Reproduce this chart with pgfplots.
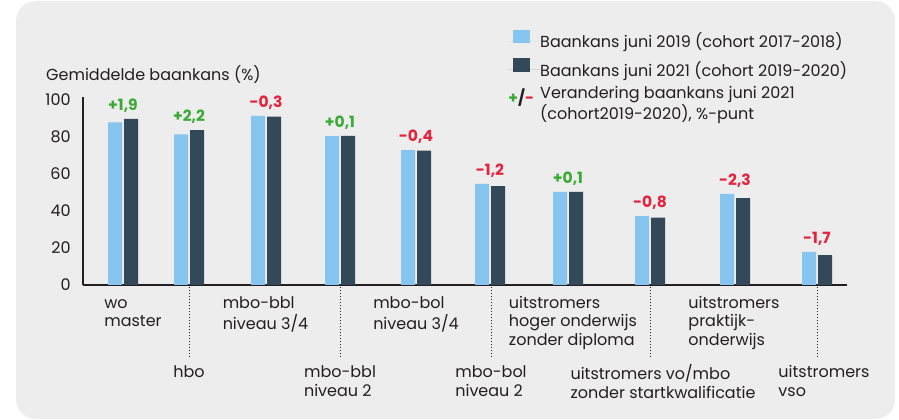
\documentclass[border=0pt]{standalone}
\usepackage{pgfplots}
\pgfplotsset{compat=1.18}
\usepackage{fontspec}
\setmainfont{Poppins}
\definecolor{lightb}{HTML}{85C5EF}
\definecolor{darkb}{HTML}{33495A}
\definecolor{pos}{HTML}{3AAA35}
\definecolor{neg}{HTML}{E6233F}
\definecolor{bg}{HTML}{EDEDED}
\definecolor{txt}{HTML}{231F20}
\newcommand{\f}{\fontsize{16}{18.7}\selectfont}
\newcommand{\fl}{\fontsize{16}{17}\selectfont}
\newcommand{\fb}{\fontsize{15.5}{18}\selectfont\bfseries}
\begin{document}
\begin{tikzpicture}[x=1pt,y=1pt]
\useasboundingbox (0,0) rectangle (899,420);
\fill[bg, rounded corners=20pt] (16,1) rectangle (895,419);
\begin{axis}[
  at={(83pt,135pt)}, anchor=south west,
  scale only axis, width=764pt, height=187.7pt,
  xmin=83, xmax=847, ymin=0, ymax=101.5,
  axis x line=bottom, axis y line=left,
  axis line style={-, line width=1.7pt, txt},
  clip=false,
  ytick={0,20,40,60,80,100},
  ytick style={draw=none},
  yticklabel style={font=\f, text=txt, inner sep=0pt, xshift=-10pt},
  /pgf/number format/assume math mode=true,
  xtick={133,265.5,416,573,734},
  xticklabels={{\strut wo\\master},{\strut mbo-bbl\\niveau 3/4},{\strut mbo-bol\\niveau 3/4},{\strut uitstromers\\hoger onderwijs\\zonder diploma},{\strut uitstromers\\praktijk-\\onderwijs}},
  xtick style={draw=none},
  xticklabel style={font=\f, text=txt, align=left, anchor=north, inner sep=0pt, yshift=-7.6pt},
  extra x ticks={189,340,491,650,817},
  extra x tick labels={{\strut hbo},{\strut mbo-bbl\\niveau 2},{\strut mbo-bol\\niveau 2},{\hspace*{26pt}\strut uitstromers vo/mbo\\\hspace*{26pt}zonder startkwalificatie},{\hspace*{14pt}\strut uitstromers\\\hspace*{14pt}vso}},
  extra x tick style={major tick length=72pt, tick align=outside,
     xtick style={draw=txt, line width=1pt, dash pattern=on 1.2pt off 1.8pt}},
  legend style={at={(0.5563,1.3586)}, anchor=north west, draw=none, fill=none,
     font=\fl, text=txt, inner sep=0pt, row sep=9pt, column sep=0pt,
     cells={anchor=base west, align=left}, nodes={inner sep=0pt}},
  legend cell align=left,
]
\addplot[ybar, bar width=14pt, bar shift=-8pt, fill=lightb, draw=none,
  legend image code/.code={\path[draw=none] (0pt,0pt) -- (32pt,0pt); \fill[lightb] (4.3pt,-2.3pt) rectangle (22pt,11pt);}]
  coordinates {(123,87.9) (189,81.5) (266,91.4) (340,80.5) (416,73.0) (490,54.7) (568,50.3) (650,37.3) (735,49.3) (817,17.9)};
\addlegendentry{Baankans juni 2019 (cohort 2017-2018)}
\addplot[ybar, bar width=14pt, bar shift=8pt, fill=darkb, draw=none,
  legend image code/.code={\path[draw=none] (0pt,0pt) -- (32pt,0pt); \fill[darkb] (4.3pt,-2.3pt) rectangle (22pt,11pt);}]
  coordinates {(123,89.8) (189,83.7) (266,91.1) (340,80.6) (416,72.6) (490,53.5) (568,50.4) (650,36.5) (735,47.0) (817,16.2)};
\addlegendentry{Baankans juni 2021 (cohort 2019-2020)}
\addlegendimage{draw=none, legend image code/.code={\path[draw=none] (0pt,0pt) -- (32pt,0pt); \node[anchor=base west, inner sep=0pt, draw=none, font=\fb] at (0pt,0pt) {\textcolor{pos}{+}\textcolor{txt}{/}\textcolor{neg}{-}};}}
\addlegendentry{Verandering baankans juni 2021\\(cohort2019-2020), \%-punt}
\begin{scope}[every node/.style={font=\fb, anchor=center, yshift=13pt}]
\node[text=pos] at (axis cs:123,89.8) {+1,9};
\node[text=pos] at (axis cs:189,83.7) {+2,2};
\node[text=neg] at (axis cs:266,91.4) {-0,3};
\node[text=pos] at (axis cs:340,80.6) {+0,1};
\node[text=neg] at (axis cs:416,73.0) {-0,4};
\node[text=neg] at (axis cs:490,54.7) {-1,2};
\node[text=pos] at (axis cs:568,50.4) {+0,1};
\node[text=neg] at (axis cs:650,37.3) {-0,8};
\node[text=neg] at (axis cs:735,49.3) {-2,3};
\node[text=neg] at (axis cs:817,17.9) {-1,7};
\end{scope}
\end{axis}
\node[anchor=base west, inner sep=0pt, font=\f, text=txt] at (46,339) {Gemiddelde baankans (\%)};
\end{tikzpicture}
\end{document}
